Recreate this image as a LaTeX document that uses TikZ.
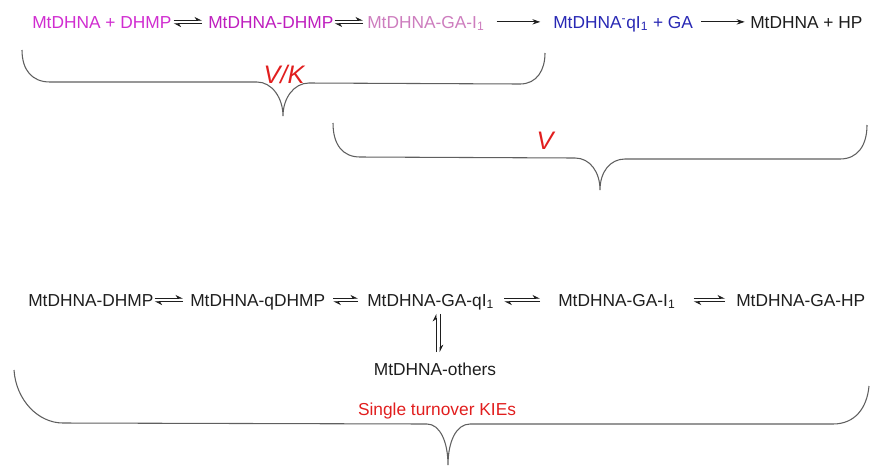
\documentclass[tikz,border=0pt]{standalone}
\usepackage{fontspec}
\setmainfont{Liberation Sans}
\usetikzlibrary{arrows.meta}
\definecolor{magA}{RGB}{208,45,208}
\definecolor{magB}{RGB}{190,30,190}
\definecolor{pinkC}{RGB}{205,125,190}
\definecolor{blueD}{RGB}{40,40,180}
\definecolor{redE}{RGB}{225,30,30}
\definecolor{inkK}{RGB}{30,30,30}
\definecolor{braceG}{RGB}{95,95,95}

\begin{document}
\begin{tikzpicture}[x=0.75pt,y=-0.75pt,
    sp/.style={inner sep=0pt,anchor=base west,font=\fontsize{13}{16}\selectfont},
    harp/.style={line width=0.6pt,inkK,-{Stealth[left,length=5pt,width=5pt]}},
    fwd/.style={line width=0.6pt,inkK,-{Stealth[length=6pt,width=4pt]}},
    brc/.style={line width=0.8pt,braceG},
    lbl/.style={inner sep=0pt,redE,font=\fontsize{19}{22}\selectfont\itshape}]
  \useasboundingbox (0,0) rectangle (870,472);

  % top row
  \node[sp,magA]  (t1) at (32,28)  {MtDHNA + DHMP};
  \node[sp,magB]  (t2) at (208,28) {MtDHNA-DHMP};
  \node[sp,pinkC] (t3) at (367,28) {MtDHNA-GA-I\textsubscript{1}};
  \node[sp,blueD] (t4) at (553,28) {MtDHNA\textsuperscript{-}qI\textsubscript{1} + GA};
  \node[sp,inkK]  (t5) at (750,28) {MtDHNA + HP};

  % bottom row
  \node[sp,inkK] (b1) at (28,306)  {MtDHNA-DHMP};
  \node[sp,inkK] (b2) at (190,306) {MtDHNA-qDHMP};
  \node[sp,inkK] (b3) at (367,306) {MtDHNA-GA-qI\textsubscript{1}};
  \node[sp,inkK] (b4) at (558,306) {MtDHNA-GA-I\textsubscript{1}};
  \node[sp,inkK] (b5) at (736,306) {MtDHNA-GA-HP};
  \node[sp,inkK,anchor=base] (o1) at (435,375) {MtDHNA-others};

  % equilibria
  \foreach \a/\b/\l/\r in {t1/t2/2/6,t2/t3/1/4,b1/b2/1/7,b2/b3/8/9,b3/b4/10/18,b4/b5/18/11}{
    \draw[harp] ([xshift=\l*0.75pt,yshift=5.8pt]\a.base east) -- ([xshift=-\r*0.75pt,yshift=5.8pt]\b.base west);
    \draw[harp] ([xshift=-\r*0.75pt,yshift=3.2pt]\b.base west) -- ([xshift=\l*0.75pt,yshift=3.2pt]\a.base east);
  }
  \coordinate (vt) at (o1.north |- b3.south);
  \draw[harp] ([xshift=0.75pt,yshift=7.5pt]o1.north) -- ([xshift=0.75pt,yshift=-3pt]vt);
  \draw[harp] ([xshift=3.75pt,yshift=-3pt]vt) -- ([xshift=3.75pt,yshift=7.5pt]o1.north);

  % forward steps
  \draw[fwd] ([xshift=9pt,yshift=4.6pt]t3.base east) -- ([xshift=-9.5pt,yshift=4.6pt]t4.base west);
  \draw[fwd] ([xshift=6pt,yshift=4.6pt]t4.base east) -- ([xshift=-4pt,yshift=4.6pt]t5.base west);

  % braces
  \begin{scope}[brc]
    \draw (22,50) .. controls (22,70) and (32,82) .. (50,82) -- (257,82)
      .. controls (272,82) and (283,98) .. (283,116)
      .. controls (283,98) and (294,83) .. (309,83) -- (520,84)
      .. controls (537,84) and (545,70) .. (545,53);
    \draw (333,123) .. controls (333,145) and (343,157) .. (360,157) -- (575,158)
      .. controls (590,158) and (600,172) .. (600,190)
      .. controls (600,172) and (610,159) .. (625,159) -- (840,159)
      .. controls (858,159) and (867,145) .. (867,125);
    \draw (14,370) .. controls (16,400) and (38,423) .. (63,423) -- (427,424)
      .. controls (440,424) and (448,442) .. (448,465)
      .. controls (448,442) and (456,424) .. (470,424) -- (833,424)
      .. controls (855,424) and (867,408) .. (869,386);
  \end{scope}

  % labels
  \node[lbl] (vk) at (284,74) {V/K};
  \node[lbl] (vv) at (545,141) {V};
  \node[sp,redE,anchor=center] (st) at (437,411) {Single turnover KIEs};
\end{tikzpicture}
\end{document}
